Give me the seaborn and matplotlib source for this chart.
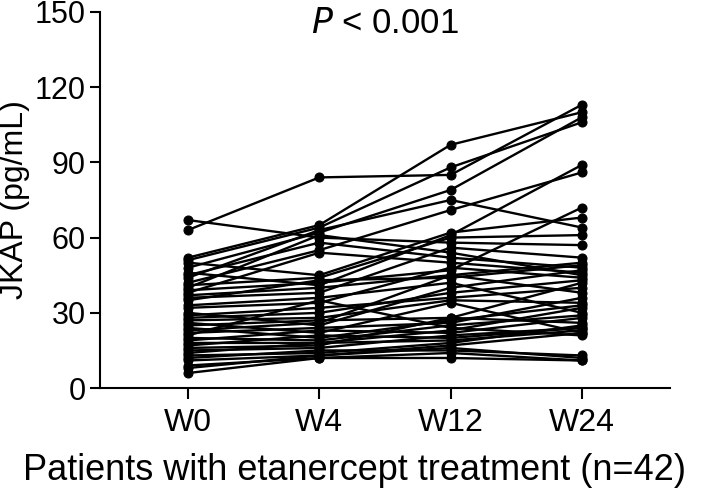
import numpy as np
import pandas as pd
import matplotlib
matplotlib.use('Agg')
import matplotlib.pyplot as plt
import seaborn as sns

# Time points
timepoints = ['W0', 'W4', 'W12', 'W24']

# JKAP (pg/mL) per patient (n=42)
w0 = [63, 67, 52, 51, 50, 48, 46, 45, 44, 42, 41, 40, 39, 38, 37, 36, 35, 33, 32, 30, 29,
      28, 27, 26, 25, 24, 23, 22, 21, 20, 19, 18, 17, 16, 15, 14, 13, 12, 11, 9, 8, 6]
w4 = [84, 60, 65, 64, 45, 62, 41, 58, 63, 55, 44, 61, 42, 54, 40, 38, 43, 36, 34, 25, 32,
      30, 28, 22, 27, 20, 26, 24, 35, 19, 23, 18, 21, 17, 16, 18, 14, 15, 13, 12, 13, 12]
w12 = [85, 58, 97, 88, 62, 79, 61, 52, 75, 71, 60, 54, 47, 50, 45, 56, 44, 42, 48, 40, 36,
       38, 35, 34, 28, 27, 45, 26, 24, 25, 22, 23, 20, 28, 21, 19, 18, 15, 17, 12, 16, 14]
w24 = [113, 57, 110, 106, 68, 108, 89, 48, 64, 86, 61, 45, 72, 46, 50, 52, 49, 30, 44, 47, 40,
       43, 34, 22, 42, 33, 38, 36, 21, 29, 28, 32, 24, 26, 24, 23, 25, 13, 22, 11, 12, 11]

patients = np.arange(1, len(w0) + 1)
df = pd.DataFrame({'patient': patients, 'W0': w0, 'W4': w4, 'W12': w12, 'W24': w24})
long_df = df.melt(id_vars='patient', value_vars=timepoints, var_name='time', value_name='JKAP')
long_df['x'] = long_df['time'].map({t: i for i, t in enumerate(timepoints)})

sns.set_style('ticks')
plt.rcParams['font.family'] = ['Liberation Sans', 'DejaVu Sans']
plt.rcParams['text.color'] = 'black'
plt.rcParams['axes.labelcolor'] = 'black'

fig = plt.figure(figsize=(7.09, 4.95), dpi=100)
ax = fig.add_axes([0.141, 0.216, 0.804, 0.76])

sns.lineplot(data=long_df, x='x', y='JKAP', units='patient', estimator=None,
             color='black', linewidth=1.7, marker='o', markersize=6.5,
             markeredgecolor='black', ax=ax, legend=False)

ax.set_xlim(-0.67, 3.67)
ax.set_ylim(0, 150)
ax.set_xticks(range(len(timepoints)))
ax.set_xticklabels(timepoints)
ax.set_yticks([0, 30, 60, 90, 120, 150])
ax.tick_params(axis='y', labelsize=22, width=1.5, length=7, color='black', labelcolor='black', pad=3)
ax.tick_params(axis='x', labelsize=23, width=1.5, length=8, color='black', labelcolor='black', pad=6)
ax.set_xlabel('')
ax.set_ylabel('JKAP (pg/mL)', fontsize=23, labelpad=4)
for side in ['left', 'bottom']:
    ax.spines[side].set_linewidth(1.5)
    ax.spines[side].set_color('black')
sns.despine(ax=ax)

# x-axis title is centred on the figure in the original
fig.text(0.5, 0.05, 'Patients with etanercept treatment (n=42)', ha='center', va='center', fontsize=26)

ax.text(1.5, 145.5, r'$\it{P}$ < 0.001', ha='center', va='center', fontsize=25)

fig.savefig('out.png', dpi=100)
